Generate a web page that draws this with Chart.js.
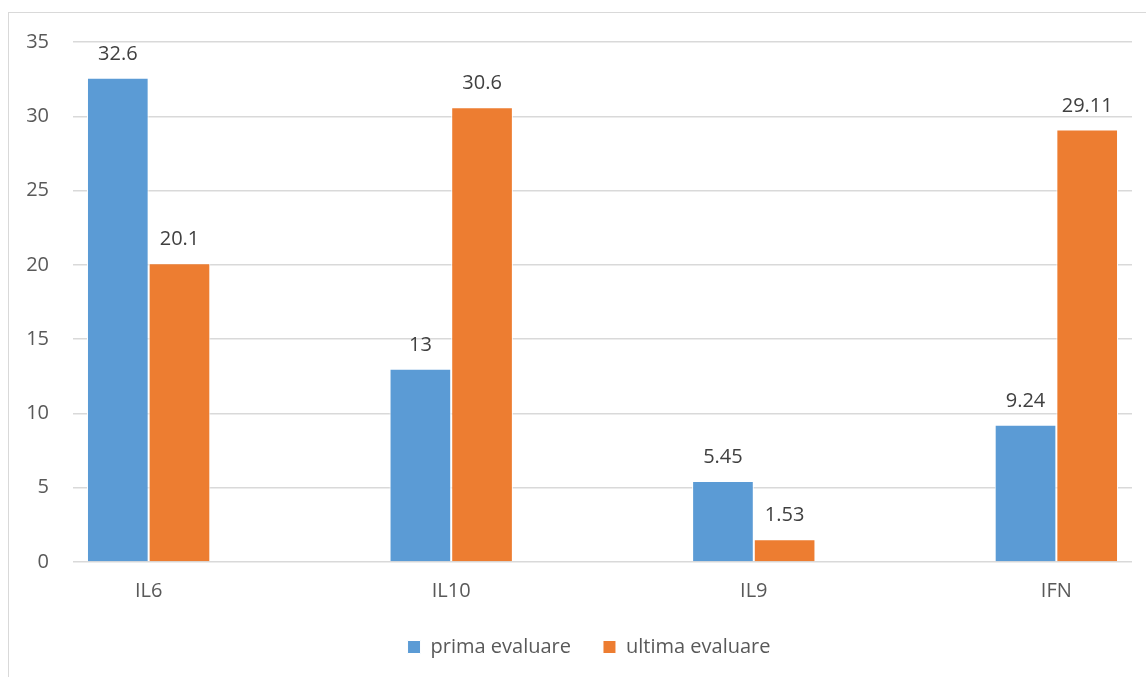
<!DOCTYPE html>
<html>
<head>
<meta charset="utf-8">
<script src="https://cdn.jsdelivr.net/npm/chart.js@4/dist/chart.umd.min.js"></script>
<style>
  html, body { margin: 0; padding: 0; background: #ffffff; overflow: hidden; }
  #frame {
    position: absolute; left: 8px; top: 12px; width: 2000px; height: 2000px;
    border-left: 1px solid #d9d9d9; border-top: 1px solid #d9d9d9; z-index: 0;
  }
  #chart { position: absolute; left: 0; top: 0; z-index: 1; }
</style>
</head>
<body>
<div id="frame"></div>
<canvas id="chart" width="1146" height="677"></canvas>
<script>
// Cytokine levels at first and last evaluation
const categories = ['IL6', 'IL10', 'IL9', 'IFN'];
const seriesNames = ['prima evaluare', 'ultima evaluare'];
const primaEvaluare = [32.6, 13, 5.45, 9.24];
const ultimaEvaluare = [20.1, 30.6, 1.53, 29.11];
const yMin = 0;
const yMax = 35;
const yStep = 5;

const BLUE = '#5b9bd5';
const ORANGE = '#ed7d31';
const TEXT = '#595959';
const FONT = "'Open Sans', 'Noto Sans', sans-serif";

const toPoints = arr => arr.map((v, i) => ({ x: i, y: v }));

// Writes each bar's value above it
const valueLabels = {
  id: 'valueLabels',
  afterDatasetsDraw(chart) {
    const ctx = chart.ctx;
    ctx.save();
    ctx.font = '20px ' + FONT;
    ctx.fillStyle = '#404040';
    ctx.textAlign = 'center';
    ctx.textBaseline = 'alphabetic';
    chart.data.datasets.forEach((ds, di) => {
      const meta = chart.getDatasetMeta(di);
      meta.data.forEach((bar, i) => {
        ctx.fillText(String(ds.data[i].y), bar.x, bar.y - 18);
      });
    });
    ctx.restore();
  }
};

// Centres the legend row under the plot rather than the whole canvas
const legendOffset = {
  id: 'legendOffset',
  afterLayout(chart) {
    if (chart.legend) chart.legend.left = 46;
  }
};

new Chart(document.getElementById('chart'), {
  type: 'bar',
  data: {
    datasets: [
      {
        label: seriesNames[0],
        data: toPoints(primaEvaluare),
        backgroundColor: BLUE,
        borderColor: '#ffffff',
        borderWidth: 1,
        categoryPercentage: 0.4076,
        barPercentage: 1
      },
      {
        label: seriesNames[1],
        data: toPoints(ultimaEvaluare),
        backgroundColor: ORANGE,
        borderColor: '#ffffff',
        borderWidth: 1,
        categoryPercentage: 0.4076,
        barPercentage: 1
      }
    ]
  },
  options: {
    responsive: false,
    animation: false,
    devicePixelRatio: 1,
    layout: { padding: { left: 0, right: 14, top: 42, bottom: 10 } },
    plugins: {
      tooltip: { enabled: false },
      legend: {
        position: 'bottom',
        align: 'center',
        labels: {
          boxWidth: 13,
          boxHeight: 13,
          padding: 32,
          color: TEXT,
          font: { family: FONT, size: 20 }
        }
      }
    },
    scales: {
      x: {
        type: 'linear',
        min: -0.25,
        max: 3.25,
        offset: false,
        grid: { display: false },
        border: { display: false },
        afterBuildTicks: scale => {
          scale.ticks = categories.map((c, i) => ({ value: i }));
        },
        afterFit: scale => { scale.height = 43; },
        ticks: {
          padding: 9,
          color: TEXT,
          font: { family: FONT, size: 20 },
          maxRotation: 0,
          callback: v => categories[v]
        }
      },
      y: {
        min: yMin,
        max: yMax,
        grid: { color: '#d9d9d9', lineWidth: 1.5, drawTicks: false },
        border: { display: false },
        afterFit: scale => { scale.width = 73; },
        ticks: {
          stepSize: yStep,
          padding: 24,
          color: TEXT,
          font: { family: FONT, size: 20 }
        }
      }
    }
  },
  plugins: [valueLabels, legendOffset]
});
</script>
</body>
</html>
